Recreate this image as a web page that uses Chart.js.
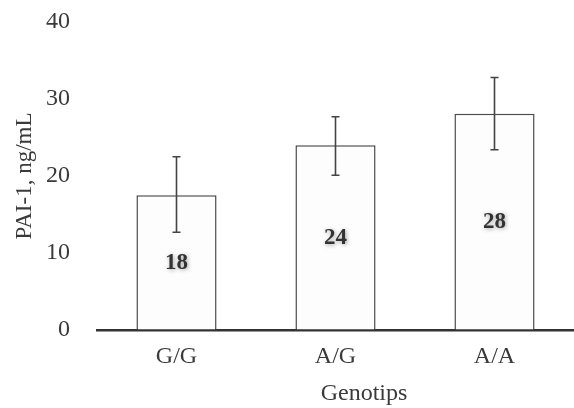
<!DOCTYPE html>
<html>
<head>
<meta charset="utf-8">
<script src="https://cdn.jsdelivr.net/npm/chart.js@4"></script>
<style>
  html, body { margin: 0; padding: 0; background: #fff; }
  #wrap { width: 574px; height: 408px; }
</style>
</head>
<body>
<div id="wrap"><canvas id="pai"></canvas></div>
<script>
// data
var genotypes  = ['G/G', 'A/G', 'A/A'];
var paiMeans   = [17.5, 24.0, 28.1];
var errLow     = [12.7, 20.1, 23.4];
var errHigh    = [22.5, 27.7, 32.8];
var barLabels  = ['18', '24', '28'];
var yTicks     = [0, 10, 20, 30, 40];

var serif = '"Liberation Serif", "Times New Roman", serif';
var ink = '#3a3a3a';

// error bars + value labels drawn through the chart's own scales
var barExtras = {
    id: 'barExtras',
    afterDatasetsDraw: function(chart) {
        var ctx = chart.ctx;
        var yScale = chart.scales.y;
        var meta = chart.getDatasetMeta(0);
        ctx.save();
        ctx.strokeStyle = '#444';
        ctx.lineWidth = 1.6;
        meta.data.forEach(function(bar, i) {
            var x = bar.x;
            var yHi = yScale.getPixelForValue(errHigh[i]);
            var yLo = yScale.getPixelForValue(errLow[i]);
            ctx.beginPath();
            ctx.moveTo(x, yHi); ctx.lineTo(x, yLo);
            ctx.moveTo(x - 4, yHi); ctx.lineTo(x + 4, yHi);
            ctx.moveTo(x - 4, yLo); ctx.lineTo(x + 4, yLo);
            ctx.stroke();
        });
        ctx.font = 'bold 23px ' + serif;
        ctx.fillStyle = '#333';
        ctx.textAlign = 'center';
        ctx.textBaseline = 'middle';
        ctx.shadowColor = 'rgba(0,0,0,0.35)';
        ctx.shadowBlur = 4;
        ctx.shadowOffsetX = 1;
        ctx.shadowOffsetY = 1;
        meta.data.forEach(function(bar, i) {
            var yMid = yScale.getPixelForValue(paiMeans[i] / 2);
            ctx.fillText(barLabels[i], bar.x, yMid);
        });
        ctx.restore();
    },
    afterDraw: function(chart) {
        // x axis title sits right of centre in the original
        var ctx = chart.ctx;
        ctx.save();
        ctx.font = '24px ' + serif;
        ctx.fillStyle = ink;
        ctx.textAlign = 'center';
        ctx.textBaseline = 'middle';
        ctx.fillText('Genotips', 364, 394);
        ctx.restore();
    }
};

new Chart(document.getElementById('pai').getContext('2d'), {
    type: 'bar',
    data: {
        labels: genotypes,
        datasets: [{
            data: paiMeans,
            backgroundColor: '#fdfdfd',
            borderColor: '#4a4a4a',
            borderWidth: 1.5,
            borderSkipped: 'start',
            barPercentage: 0.504,
            categoryPercentage: 1.0
        }]
    },
    options: {
        responsive: true,
        maintainAspectRatio: false,
        animation: false,
        layout: { padding: { top: 22, right: 0, bottom: 0, left: 0 } },
        plugins: {
            legend: { display: false },
            tooltip: { enabled: false }
        },
        scales: {
            x: {
                grid: { display: false, drawTicks: false },
                border: { display: true, color: '#333', width: 2.5 },
                ticks: {
                    color: ink,
                    font: { family: serif, size: 24 },
                    padding: 12
                },
                afterFit: function(s) { s.height = 78; }
            },
            y: {
                min: 0,
                max: 40,
                afterBuildTicks: function(s) {
                    s.ticks = yTicks.map(function(v) { return { value: v }; });
                },
                // invisible tick marks give the label gap without padding the top
                grid: { display: true, drawOnChartArea: false, drawTicks: true,
                        tickLength: 24, tickColor: 'rgba(0,0,0,0)' },
                border: { display: false },
                ticks: {
                    color: ink,
                    font: { family: serif, size: 24 },
                    padding: 3
                },
                title: {
                    display: true,
                    text: 'PAI-1, ng/mL',
                    color: ink,
                    font: { family: serif, size: 23 },
                    padding: { top: 11, bottom: 0 }
                },
                afterFit: function(s) { s.width = 97; }
            }
        }
    },
    plugins: [barExtras]
});
</script>
</body>
</html>
